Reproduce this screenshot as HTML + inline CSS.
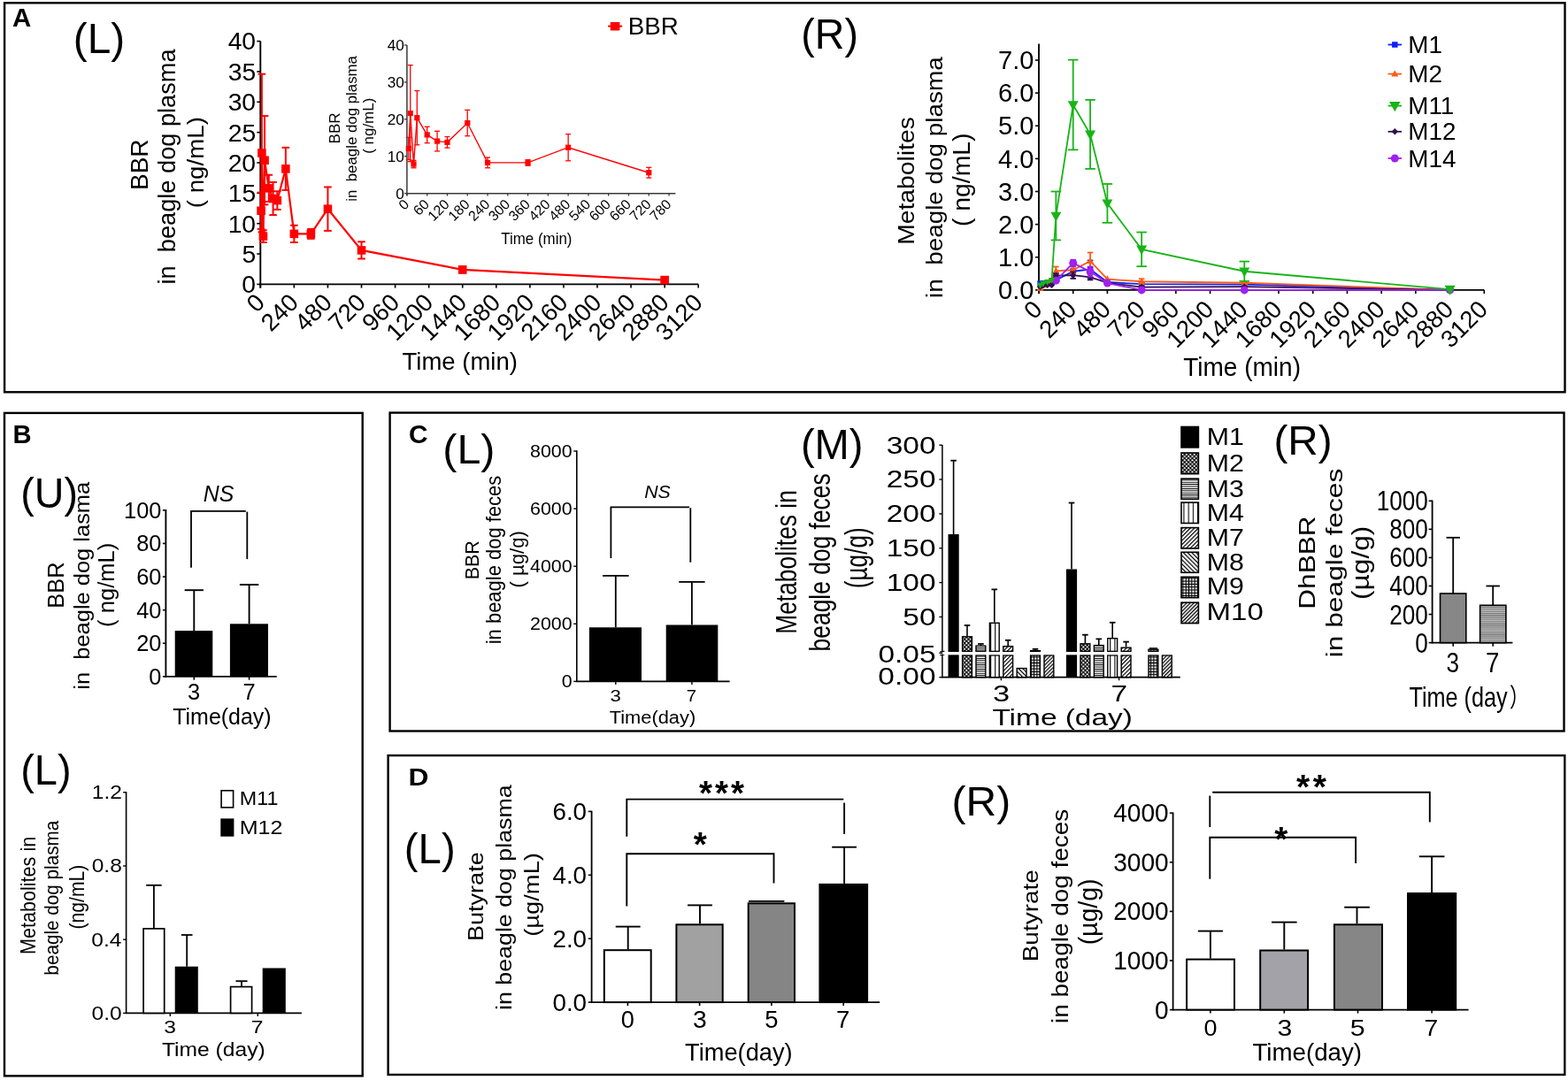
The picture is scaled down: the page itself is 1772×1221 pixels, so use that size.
<!DOCTYPE html>
<html><head><meta charset="utf-8"><title>Figure</title>
<style>html,body{margin:0;padding:0;background:#fff;}svg{display:block;}</style></head>
<body><svg width="1772" height="1221" viewBox="0 0 1772 1221" font-family="'Liberation Sans', Arial, Helvetica, sans-serif" style="white-space:pre">
<rect x="0" y="0" width="1772" height="1221" fill="#fff"/>
<rect x="5.1" y="3.3" width="1763.4" height="440" fill="none" stroke="#000" stroke-width="2.4"/>
<text transform="translate(13.97,30.2) scale(0.9954,1)" font-size="29.5" font-weight="bold" fill="#000">A</text>
<text transform="translate(82.84,60.4) scale(0.9878,1)" font-size="48.4" fill="#000">(L)</text>
<text transform="translate(905.31,54.6) scale(0.9626,1)" font-size="48.4" fill="#000">(R)</text>
<line x1="294.3" y1="46.6" x2="294.3" y2="325.4" stroke="#000" stroke-width="1.9"/>
<line x1="293.4" y1="321.4" x2="789.2" y2="321.4" stroke="#000" stroke-width="1.9"/>
<line x1="290.3" y1="321.4" x2="294.3" y2="321.4" stroke="#000" stroke-width="1.6"/>
<line x1="290.3" y1="287.05" x2="294.3" y2="287.05" stroke="#000" stroke-width="1.6"/>
<line x1="290.3" y1="252.7" x2="294.3" y2="252.7" stroke="#000" stroke-width="1.6"/>
<line x1="290.3" y1="218.35" x2="294.3" y2="218.35" stroke="#000" stroke-width="1.6"/>
<line x1="290.3" y1="184" x2="294.3" y2="184" stroke="#000" stroke-width="1.6"/>
<line x1="290.3" y1="149.65" x2="294.3" y2="149.65" stroke="#000" stroke-width="1.6"/>
<line x1="290.3" y1="115.3" x2="294.3" y2="115.3" stroke="#000" stroke-width="1.6"/>
<line x1="290.3" y1="80.95" x2="294.3" y2="80.95" stroke="#000" stroke-width="1.6"/>
<line x1="290.3" y1="46.6" x2="294.3" y2="46.6" stroke="#000" stroke-width="1.6"/>
<text transform="translate(273.37,331.28) scale(1.0000,1)" font-size="28.3" fill="#000">0</text>
<text transform="translate(273.45,296.93) scale(1.0000,1)" font-size="28.3" fill="#000">5</text>
<text transform="translate(257.63,262.58) scale(1.0000,1)" font-size="28.3" fill="#000">10</text>
<text transform="translate(257.71,228.23) scale(1.0000,1)" font-size="28.3" fill="#000">15</text>
<text transform="translate(257.63,193.88) scale(1.0000,1)" font-size="28.3" fill="#000">20</text>
<text transform="translate(257.71,159.53) scale(1.0000,1)" font-size="28.3" fill="#000">25</text>
<text transform="translate(257.63,125.18) scale(1.0000,1)" font-size="28.3" fill="#000">30</text>
<text transform="translate(257.71,90.83) scale(1.0000,1)" font-size="28.3" fill="#000">35</text>
<text transform="translate(257.63,56.48) scale(1.0000,1)" font-size="28.3" fill="#000">40</text>
<line x1="294.3" y1="321.4" x2="294.3" y2="325.6" stroke="#000" stroke-width="1.6"/>
<text transform="translate(300.7,343.6) rotate(-45) scale(1.0,1)" font-size="27.5" text-anchor="end" fill="#000">0</text>
<line x1="332.37" y1="321.4" x2="332.37" y2="325.6" stroke="#000" stroke-width="1.6"/>
<text transform="translate(338.77,343.6) rotate(-45) scale(1.0,1)" font-size="27.5" text-anchor="end" fill="#000">240</text>
<line x1="370.44" y1="321.4" x2="370.44" y2="325.6" stroke="#000" stroke-width="1.6"/>
<text transform="translate(376.84,343.6) rotate(-45) scale(1.0,1)" font-size="27.5" text-anchor="end" fill="#000">480</text>
<line x1="408.51" y1="321.4" x2="408.51" y2="325.6" stroke="#000" stroke-width="1.6"/>
<text transform="translate(414.91,343.6) rotate(-45) scale(1.0,1)" font-size="27.5" text-anchor="end" fill="#000">720</text>
<line x1="446.58" y1="321.4" x2="446.58" y2="325.6" stroke="#000" stroke-width="1.6"/>
<text transform="translate(452.98,343.6) rotate(-45) scale(1.0,1)" font-size="27.5" text-anchor="end" fill="#000">960</text>
<line x1="484.65" y1="321.4" x2="484.65" y2="325.6" stroke="#000" stroke-width="1.6"/>
<text transform="translate(491.05,343.6) rotate(-45) scale(1.0,1)" font-size="27.5" text-anchor="end" fill="#000">1200</text>
<line x1="522.72" y1="321.4" x2="522.72" y2="325.6" stroke="#000" stroke-width="1.6"/>
<text transform="translate(529.12,343.6) rotate(-45) scale(1.0,1)" font-size="27.5" text-anchor="end" fill="#000">1440</text>
<line x1="560.78" y1="321.4" x2="560.78" y2="325.6" stroke="#000" stroke-width="1.6"/>
<text transform="translate(567.18,343.6) rotate(-45) scale(1.0,1)" font-size="27.5" text-anchor="end" fill="#000">1680</text>
<line x1="598.85" y1="321.4" x2="598.85" y2="325.6" stroke="#000" stroke-width="1.6"/>
<text transform="translate(605.25,343.6) rotate(-45) scale(1.0,1)" font-size="27.5" text-anchor="end" fill="#000">1920</text>
<line x1="636.92" y1="321.4" x2="636.92" y2="325.6" stroke="#000" stroke-width="1.6"/>
<text transform="translate(643.32,343.6) rotate(-45) scale(1.0,1)" font-size="27.5" text-anchor="end" fill="#000">2160</text>
<line x1="674.99" y1="321.4" x2="674.99" y2="325.6" stroke="#000" stroke-width="1.6"/>
<text transform="translate(681.39,343.6) rotate(-45) scale(1.0,1)" font-size="27.5" text-anchor="end" fill="#000">2400</text>
<line x1="713.06" y1="321.4" x2="713.06" y2="325.6" stroke="#000" stroke-width="1.6"/>
<text transform="translate(719.46,343.6) rotate(-45) scale(1.0,1)" font-size="27.5" text-anchor="end" fill="#000">2640</text>
<line x1="751.13" y1="321.4" x2="751.13" y2="325.6" stroke="#000" stroke-width="1.6"/>
<text transform="translate(757.53,343.6) rotate(-45) scale(1.0,1)" font-size="27.5" text-anchor="end" fill="#000">2880</text>
<line x1="789.2" y1="321.4" x2="789.2" y2="325.6" stroke="#000" stroke-width="1.6"/>
<text transform="translate(795.6,343.6) rotate(-45) scale(1.0,1)" font-size="27.5" text-anchor="end" fill="#000">3120</text>
<text transform="translate(454.58,417.8) scale(0.9721,1)" font-size="28.3" fill="#000">Time (min)</text>
<text transform="translate(166.5,215) rotate(-90) scale(1.0076,1)" font-size="27.8" fill="#000">BBR</text>
<text transform="translate(198.3,321.42) rotate(-90) scale(0.9995,1)" font-size="27.2" fill="#000">in &#160;beagle dog plasma</text>
<text transform="translate(229.7,235.22) rotate(-90) scale(1.0849,1)" font-size="25.53" fill="#000">( ng/mL)</text>
<line x1="295.09" y1="217.66" x2="295.09" y2="258.88" stroke="#ff0000" stroke-width="2"/>
<line x1="290.79" y1="217.66" x2="299.39" y2="217.66" stroke="#ff0000" stroke-width="2"/>
<line x1="290.79" y1="258.88" x2="299.39" y2="258.88" stroke="#ff0000" stroke-width="2"/>
<line x1="295.89" y1="83.7" x2="295.89" y2="262.32" stroke="#ff0000" stroke-width="2"/>
<line x1="291.59" y1="83.7" x2="300.19" y2="83.7" stroke="#ff0000" stroke-width="2"/>
<line x1="291.59" y1="262.32" x2="300.19" y2="262.32" stroke="#ff0000" stroke-width="2"/>
<line x1="297.47" y1="260.26" x2="297.47" y2="274" stroke="#ff0000" stroke-width="2"/>
<line x1="293.17" y1="260.26" x2="301.77" y2="260.26" stroke="#ff0000" stroke-width="2"/>
<line x1="293.17" y1="274" x2="301.77" y2="274" stroke="#ff0000" stroke-width="2"/>
<line x1="299.06" y1="131.1" x2="299.06" y2="231.4" stroke="#ff0000" stroke-width="2"/>
<line x1="294.76" y1="131.1" x2="303.36" y2="131.1" stroke="#ff0000" stroke-width="2"/>
<line x1="294.76" y1="231.4" x2="303.36" y2="231.4" stroke="#ff0000" stroke-width="2"/>
<line x1="303.82" y1="197.74" x2="303.82" y2="227.97" stroke="#ff0000" stroke-width="2"/>
<line x1="299.52" y1="197.74" x2="308.12" y2="197.74" stroke="#ff0000" stroke-width="2"/>
<line x1="299.52" y1="227.97" x2="308.12" y2="227.97" stroke="#ff0000" stroke-width="2"/>
<line x1="308.58" y1="205.98" x2="308.58" y2="243.08" stroke="#ff0000" stroke-width="2"/>
<line x1="304.28" y1="205.98" x2="312.88" y2="205.98" stroke="#ff0000" stroke-width="2"/>
<line x1="304.28" y1="243.08" x2="312.88" y2="243.08" stroke="#ff0000" stroke-width="2"/>
<line x1="313.33" y1="216.29" x2="313.33" y2="236.9" stroke="#ff0000" stroke-width="2"/>
<line x1="309.03" y1="216.29" x2="317.63" y2="216.29" stroke="#ff0000" stroke-width="2"/>
<line x1="309.03" y1="236.9" x2="317.63" y2="236.9" stroke="#ff0000" stroke-width="2"/>
<line x1="322.85" y1="166.82" x2="322.85" y2="214.91" stroke="#ff0000" stroke-width="2"/>
<line x1="318.55" y1="166.82" x2="327.15" y2="166.82" stroke="#ff0000" stroke-width="2"/>
<line x1="318.55" y1="214.91" x2="327.15" y2="214.91" stroke="#ff0000" stroke-width="2"/>
<line x1="332.37" y1="254.76" x2="332.37" y2="274" stroke="#ff0000" stroke-width="2"/>
<line x1="328.07" y1="254.76" x2="336.67" y2="254.76" stroke="#ff0000" stroke-width="2"/>
<line x1="328.07" y1="274" x2="336.67" y2="274" stroke="#ff0000" stroke-width="2"/>
<line x1="351.4" y1="258.88" x2="351.4" y2="269.88" stroke="#ff0000" stroke-width="2"/>
<line x1="347.1" y1="258.88" x2="355.7" y2="258.88" stroke="#ff0000" stroke-width="2"/>
<line x1="347.1" y1="269.88" x2="355.7" y2="269.88" stroke="#ff0000" stroke-width="2"/>
<line x1="370.44" y1="211.48" x2="370.44" y2="260.94" stroke="#ff0000" stroke-width="2"/>
<line x1="366.14" y1="211.48" x2="374.74" y2="211.48" stroke="#ff0000" stroke-width="2"/>
<line x1="366.14" y1="260.94" x2="374.74" y2="260.94" stroke="#ff0000" stroke-width="2"/>
<line x1="408.51" y1="273.31" x2="408.51" y2="292.55" stroke="#ff0000" stroke-width="2"/>
<line x1="404.21" y1="273.31" x2="412.81" y2="273.31" stroke="#ff0000" stroke-width="2"/>
<line x1="404.21" y1="292.55" x2="412.81" y2="292.55" stroke="#ff0000" stroke-width="2"/>
<line x1="522.72" y1="301.48" x2="522.72" y2="308.35" stroke="#ff0000" stroke-width="2"/>
<line x1="518.42" y1="301.48" x2="527.02" y2="301.48" stroke="#ff0000" stroke-width="2"/>
<line x1="518.42" y1="308.35" x2="527.02" y2="308.35" stroke="#ff0000" stroke-width="2"/>
<line x1="751.13" y1="314.53" x2="751.13" y2="318.65" stroke="#ff0000" stroke-width="2"/>
<line x1="746.83" y1="314.53" x2="755.43" y2="314.53" stroke="#ff0000" stroke-width="2"/>
<line x1="746.83" y1="318.65" x2="755.43" y2="318.65" stroke="#ff0000" stroke-width="2"/>
<polyline points="295.09,238.27 295.89,173.01 297.47,267.13 299.06,181.25 303.82,212.85 308.58,224.53 313.33,226.59 322.85,190.87 332.37,264.38 351.4,264.38 370.44,236.21 408.51,282.93 522.72,304.91 751.13,316.59" fill="none" stroke="#ff0000" stroke-width="2.2" stroke-linejoin="miter"/>
<rect x="290.29" y="233.47" width="9.6" height="9.6" fill="#ff0000" stroke="none" stroke-width="0"/>
<rect x="291.09" y="168.21" width="9.6" height="9.6" fill="#ff0000" stroke="none" stroke-width="0"/>
<rect x="292.67" y="262.33" width="9.6" height="9.6" fill="#ff0000" stroke="none" stroke-width="0"/>
<rect x="294.26" y="176.45" width="9.6" height="9.6" fill="#ff0000" stroke="none" stroke-width="0"/>
<rect x="299.02" y="208.05" width="9.6" height="9.6" fill="#ff0000" stroke="none" stroke-width="0"/>
<rect x="303.78" y="219.73" width="9.6" height="9.6" fill="#ff0000" stroke="none" stroke-width="0"/>
<rect x="308.53" y="221.79" width="9.6" height="9.6" fill="#ff0000" stroke="none" stroke-width="0"/>
<rect x="318.05" y="186.07" width="9.6" height="9.6" fill="#ff0000" stroke="none" stroke-width="0"/>
<rect x="327.57" y="259.58" width="9.6" height="9.6" fill="#ff0000" stroke="none" stroke-width="0"/>
<rect x="346.6" y="259.58" width="9.6" height="9.6" fill="#ff0000" stroke="none" stroke-width="0"/>
<rect x="365.64" y="231.41" width="9.6" height="9.6" fill="#ff0000" stroke="none" stroke-width="0"/>
<rect x="403.71" y="278.13" width="9.6" height="9.6" fill="#ff0000" stroke="none" stroke-width="0"/>
<rect x="517.92" y="300.11" width="9.6" height="9.6" fill="#ff0000" stroke="none" stroke-width="0"/>
<rect x="746.33" y="311.79" width="9.6" height="9.6" fill="#ff0000" stroke="none" stroke-width="0"/>
<line x1="687.1" y1="29.6" x2="703.1" y2="29.6" stroke="#ff0000" stroke-width="2"/>
<rect x="689.8" y="25" width="10.6" height="9.5" fill="#ff0000" stroke="none" stroke-width="0"/>
<text transform="translate(709.82,38.6) scale(1.0055,1)" font-size="27.6" fill="#000">BBR</text>
<line x1="459.9" y1="51" x2="459.9" y2="221.2" stroke="#3a3a3a" stroke-width="1.5"/>
<line x1="459.2" y1="218.7" x2="763.4" y2="218.7" stroke="#3a3a3a" stroke-width="1.5"/>
<line x1="456.9" y1="218.7" x2="459.9" y2="218.7" stroke="#3a3a3a" stroke-width="1.3"/>
<line x1="456.9" y1="176.77" x2="459.9" y2="176.77" stroke="#3a3a3a" stroke-width="1.3"/>
<line x1="456.9" y1="134.85" x2="459.9" y2="134.85" stroke="#3a3a3a" stroke-width="1.3"/>
<line x1="456.9" y1="92.92" x2="459.9" y2="92.92" stroke="#3a3a3a" stroke-width="1.3"/>
<line x1="456.9" y1="51" x2="459.9" y2="51" stroke="#3a3a3a" stroke-width="1.3"/>
<text transform="translate(447.21,224.7) scale(1.0000,1)" font-size="17.2" fill="#000">0</text>
<text transform="translate(437.64,182.78) scale(1.0000,1)" font-size="17.2" fill="#000">10</text>
<text transform="translate(437.64,140.85) scale(1.0000,1)" font-size="17.2" fill="#000">20</text>
<text transform="translate(437.64,98.93) scale(1.0000,1)" font-size="17.2" fill="#000">30</text>
<text transform="translate(437.64,57) scale(1.0000,1)" font-size="17.2" fill="#000">40</text>
<line x1="459.9" y1="218.7" x2="459.9" y2="221.5" stroke="#3a3a3a" stroke-width="1.3"/>
<text transform="translate(463.3,231.9) rotate(-45) scale(1.0,1)" font-size="15.9" text-anchor="end" fill="#000">0</text>
<line x1="482.68" y1="218.7" x2="482.68" y2="221.5" stroke="#3a3a3a" stroke-width="1.3"/>
<text transform="translate(486.08,231.9) rotate(-45) scale(1.0,1)" font-size="15.9" text-anchor="end" fill="#000">60</text>
<line x1="505.46" y1="218.7" x2="505.46" y2="221.5" stroke="#3a3a3a" stroke-width="1.3"/>
<text transform="translate(508.86,231.9) rotate(-45) scale(1.0,1)" font-size="15.9" text-anchor="end" fill="#000">120</text>
<line x1="528.24" y1="218.7" x2="528.24" y2="221.5" stroke="#3a3a3a" stroke-width="1.3"/>
<text transform="translate(531.64,231.9) rotate(-45) scale(1.0,1)" font-size="15.9" text-anchor="end" fill="#000">180</text>
<line x1="551.02" y1="218.7" x2="551.02" y2="221.5" stroke="#3a3a3a" stroke-width="1.3"/>
<text transform="translate(554.42,231.9) rotate(-45) scale(1.0,1)" font-size="15.9" text-anchor="end" fill="#000">240</text>
<line x1="573.8" y1="218.7" x2="573.8" y2="221.5" stroke="#3a3a3a" stroke-width="1.3"/>
<text transform="translate(577.2,231.9) rotate(-45) scale(1.0,1)" font-size="15.9" text-anchor="end" fill="#000">300</text>
<line x1="596.58" y1="218.7" x2="596.58" y2="221.5" stroke="#3a3a3a" stroke-width="1.3"/>
<text transform="translate(599.98,231.9) rotate(-45) scale(1.0,1)" font-size="15.9" text-anchor="end" fill="#000">360</text>
<line x1="619.36" y1="218.7" x2="619.36" y2="221.5" stroke="#3a3a3a" stroke-width="1.3"/>
<text transform="translate(622.76,231.9) rotate(-45) scale(1.0,1)" font-size="15.9" text-anchor="end" fill="#000">420</text>
<line x1="642.14" y1="218.7" x2="642.14" y2="221.5" stroke="#3a3a3a" stroke-width="1.3"/>
<text transform="translate(645.54,231.9) rotate(-45) scale(1.0,1)" font-size="15.9" text-anchor="end" fill="#000">480</text>
<line x1="664.92" y1="218.7" x2="664.92" y2="221.5" stroke="#3a3a3a" stroke-width="1.3"/>
<text transform="translate(668.32,231.9) rotate(-45) scale(1.0,1)" font-size="15.9" text-anchor="end" fill="#000">540</text>
<line x1="687.7" y1="218.7" x2="687.7" y2="221.5" stroke="#3a3a3a" stroke-width="1.3"/>
<text transform="translate(691.1,231.9) rotate(-45) scale(1.0,1)" font-size="15.9" text-anchor="end" fill="#000">600</text>
<line x1="710.48" y1="218.7" x2="710.48" y2="221.5" stroke="#3a3a3a" stroke-width="1.3"/>
<text transform="translate(713.88,231.9) rotate(-45) scale(1.0,1)" font-size="15.9" text-anchor="end" fill="#000">660</text>
<line x1="733.26" y1="218.7" x2="733.26" y2="221.5" stroke="#3a3a3a" stroke-width="1.3"/>
<text transform="translate(736.66,231.9) rotate(-45) scale(1.0,1)" font-size="15.9" text-anchor="end" fill="#000">720</text>
<line x1="756.04" y1="218.7" x2="756.04" y2="221.5" stroke="#3a3a3a" stroke-width="1.3"/>
<text transform="translate(759.44,231.9) rotate(-45) scale(1.0,1)" font-size="15.9" text-anchor="end" fill="#000">780</text>
<text transform="translate(566.32,276.4) scale(0.9668,1)" font-size="17.5" fill="#000">Time (min)</text>
<text transform="translate(383.9,162.39) rotate(-90) scale(1.0097,1)" font-size="16.8" fill="#000">BBR</text>
<text transform="translate(402.8,227.73) rotate(-90) scale(1.0798,1)" font-size="15.6" fill="#000">in &#160;beagle dog plasma</text>
<text transform="translate(422.3,173.85) rotate(-90) scale(1.0479,1)" font-size="16.2" fill="#000">( ng/mL)</text>
<line x1="461.8" y1="155.39" x2="461.8" y2="180.55" stroke="#ff0000" stroke-width="1.3"/>
<line x1="458.8" y1="155.39" x2="464.8" y2="155.39" stroke="#ff0000" stroke-width="1.3"/>
<line x1="458.8" y1="180.55" x2="464.8" y2="180.55" stroke="#ff0000" stroke-width="1.3"/>
<line x1="463.7" y1="73.64" x2="463.7" y2="182.64" stroke="#ff0000" stroke-width="1.3"/>
<line x1="460.7" y1="73.64" x2="466.7" y2="73.64" stroke="#ff0000" stroke-width="1.3"/>
<line x1="460.7" y1="182.64" x2="466.7" y2="182.64" stroke="#ff0000" stroke-width="1.3"/>
<line x1="467.49" y1="181.39" x2="467.49" y2="189.77" stroke="#ff0000" stroke-width="1.3"/>
<line x1="464.49" y1="181.39" x2="470.49" y2="181.39" stroke="#ff0000" stroke-width="1.3"/>
<line x1="464.49" y1="189.77" x2="470.49" y2="189.77" stroke="#ff0000" stroke-width="1.3"/>
<line x1="471.29" y1="102.57" x2="471.29" y2="163.78" stroke="#ff0000" stroke-width="1.3"/>
<line x1="468.29" y1="102.57" x2="474.29" y2="102.57" stroke="#ff0000" stroke-width="1.3"/>
<line x1="468.29" y1="163.78" x2="474.29" y2="163.78" stroke="#ff0000" stroke-width="1.3"/>
<line x1="482.68" y1="143.23" x2="482.68" y2="161.68" stroke="#ff0000" stroke-width="1.3"/>
<line x1="479.68" y1="143.23" x2="485.68" y2="143.23" stroke="#ff0000" stroke-width="1.3"/>
<line x1="479.68" y1="161.68" x2="485.68" y2="161.68" stroke="#ff0000" stroke-width="1.3"/>
<line x1="494.07" y1="148.27" x2="494.07" y2="170.91" stroke="#ff0000" stroke-width="1.3"/>
<line x1="491.07" y1="148.27" x2="497.07" y2="148.27" stroke="#ff0000" stroke-width="1.3"/>
<line x1="491.07" y1="170.91" x2="497.07" y2="170.91" stroke="#ff0000" stroke-width="1.3"/>
<line x1="505.46" y1="154.55" x2="505.46" y2="167.13" stroke="#ff0000" stroke-width="1.3"/>
<line x1="502.46" y1="154.55" x2="508.46" y2="154.55" stroke="#ff0000" stroke-width="1.3"/>
<line x1="502.46" y1="167.13" x2="508.46" y2="167.13" stroke="#ff0000" stroke-width="1.3"/>
<line x1="528.24" y1="124.37" x2="528.24" y2="153.72" stroke="#ff0000" stroke-width="1.3"/>
<line x1="525.24" y1="124.37" x2="531.24" y2="124.37" stroke="#ff0000" stroke-width="1.3"/>
<line x1="525.24" y1="153.72" x2="531.24" y2="153.72" stroke="#ff0000" stroke-width="1.3"/>
<line x1="551.02" y1="178.03" x2="551.02" y2="189.77" stroke="#ff0000" stroke-width="1.3"/>
<line x1="548.02" y1="178.03" x2="554.02" y2="178.03" stroke="#ff0000" stroke-width="1.3"/>
<line x1="548.02" y1="189.77" x2="554.02" y2="189.77" stroke="#ff0000" stroke-width="1.3"/>
<line x1="596.58" y1="180.55" x2="596.58" y2="187.26" stroke="#ff0000" stroke-width="1.3"/>
<line x1="593.58" y1="180.55" x2="599.58" y2="180.55" stroke="#ff0000" stroke-width="1.3"/>
<line x1="593.58" y1="187.26" x2="599.58" y2="187.26" stroke="#ff0000" stroke-width="1.3"/>
<line x1="642.14" y1="151.62" x2="642.14" y2="181.81" stroke="#ff0000" stroke-width="1.3"/>
<line x1="639.14" y1="151.62" x2="645.14" y2="151.62" stroke="#ff0000" stroke-width="1.3"/>
<line x1="639.14" y1="181.81" x2="645.14" y2="181.81" stroke="#ff0000" stroke-width="1.3"/>
<line x1="733.26" y1="189.35" x2="733.26" y2="201.09" stroke="#ff0000" stroke-width="1.3"/>
<line x1="730.26" y1="189.35" x2="736.26" y2="189.35" stroke="#ff0000" stroke-width="1.3"/>
<line x1="730.26" y1="201.09" x2="736.26" y2="201.09" stroke="#ff0000" stroke-width="1.3"/>
<polyline points="461.8,167.97 463.7,128.14 467.49,185.58 471.29,133.17 482.68,152.46 494.07,159.59 505.46,160.84 528.24,139.04 551.02,183.9 596.58,183.9 642.14,166.71 733.26,195.22" fill="none" stroke="#ff0000" stroke-width="1.4" stroke-linejoin="miter"/>
<rect x="458.7" y="164.87" width="6.2" height="6.2" fill="#ff0000" stroke="none" stroke-width="0"/>
<rect x="460.6" y="125.04" width="6.2" height="6.2" fill="#ff0000" stroke="none" stroke-width="0"/>
<rect x="464.39" y="182.48" width="6.2" height="6.2" fill="#ff0000" stroke="none" stroke-width="0"/>
<rect x="468.19" y="130.07" width="6.2" height="6.2" fill="#ff0000" stroke="none" stroke-width="0"/>
<rect x="479.58" y="149.36" width="6.2" height="6.2" fill="#ff0000" stroke="none" stroke-width="0"/>
<rect x="490.97" y="156.49" width="6.2" height="6.2" fill="#ff0000" stroke="none" stroke-width="0"/>
<rect x="502.36" y="157.74" width="6.2" height="6.2" fill="#ff0000" stroke="none" stroke-width="0"/>
<rect x="525.14" y="135.94" width="6.2" height="6.2" fill="#ff0000" stroke="none" stroke-width="0"/>
<rect x="547.92" y="180.8" width="6.2" height="6.2" fill="#ff0000" stroke="none" stroke-width="0"/>
<rect x="593.48" y="180.8" width="6.2" height="6.2" fill="#ff0000" stroke="none" stroke-width="0"/>
<rect x="639.04" y="163.61" width="6.2" height="6.2" fill="#ff0000" stroke="none" stroke-width="0"/>
<rect x="730.16" y="192.12" width="6.2" height="6.2" fill="#ff0000" stroke="none" stroke-width="0"/>
<line x1="1174" y1="49.5" x2="1174" y2="331.9" stroke="#000" stroke-width="1.9"/>
<line x1="1173.1" y1="327.9" x2="1677.3" y2="327.9" stroke="#000" stroke-width="1.9"/>
<line x1="1170" y1="327.9" x2="1174" y2="327.9" stroke="#000" stroke-width="1.6"/>
<line x1="1170" y1="290.77" x2="1174" y2="290.77" stroke="#000" stroke-width="1.6"/>
<line x1="1170" y1="253.64" x2="1174" y2="253.64" stroke="#000" stroke-width="1.6"/>
<line x1="1170" y1="216.51" x2="1174" y2="216.51" stroke="#000" stroke-width="1.6"/>
<line x1="1170" y1="179.39" x2="1174" y2="179.39" stroke="#000" stroke-width="1.6"/>
<line x1="1170" y1="142.26" x2="1174" y2="142.26" stroke="#000" stroke-width="1.6"/>
<line x1="1170" y1="105.13" x2="1174" y2="105.13" stroke="#000" stroke-width="1.6"/>
<line x1="1170" y1="68" x2="1174" y2="68" stroke="#000" stroke-width="1.6"/>
<text transform="translate(1128.02,338.02) scale(1.0000,1)" font-size="29" fill="#000">0.0</text>
<text transform="translate(1128.02,300.89) scale(1.0000,1)" font-size="29" fill="#000">1.0</text>
<text transform="translate(1128.02,263.76) scale(1.0000,1)" font-size="29" fill="#000">2.0</text>
<text transform="translate(1128.02,226.64) scale(1.0000,1)" font-size="29" fill="#000">3.0</text>
<text transform="translate(1128.02,189.51) scale(1.0000,1)" font-size="29" fill="#000">4.0</text>
<text transform="translate(1128.02,152.38) scale(1.0000,1)" font-size="29" fill="#000">5.0</text>
<text transform="translate(1128.02,115.25) scale(1.0000,1)" font-size="29" fill="#000">6.0</text>
<text transform="translate(1128.02,78.12) scale(1.0000,1)" font-size="29" fill="#000">7.0</text>
<line x1="1174" y1="327.9" x2="1174" y2="332.1" stroke="#000" stroke-width="1.6"/>
<text transform="translate(1179.4,351.4) rotate(-45) scale(1.0,1)" font-size="27.5" text-anchor="end" fill="#000">0</text>
<line x1="1212.72" y1="327.9" x2="1212.72" y2="332.1" stroke="#000" stroke-width="1.6"/>
<text transform="translate(1218.12,351.4) rotate(-45) scale(1.0,1)" font-size="27.5" text-anchor="end" fill="#000">240</text>
<line x1="1251.43" y1="327.9" x2="1251.43" y2="332.1" stroke="#000" stroke-width="1.6"/>
<text transform="translate(1256.83,351.4) rotate(-45) scale(1.0,1)" font-size="27.5" text-anchor="end" fill="#000">480</text>
<line x1="1290.15" y1="327.9" x2="1290.15" y2="332.1" stroke="#000" stroke-width="1.6"/>
<text transform="translate(1295.55,351.4) rotate(-45) scale(1.0,1)" font-size="27.5" text-anchor="end" fill="#000">720</text>
<line x1="1328.86" y1="327.9" x2="1328.86" y2="332.1" stroke="#000" stroke-width="1.6"/>
<text transform="translate(1334.26,351.4) rotate(-45) scale(1.0,1)" font-size="27.5" text-anchor="end" fill="#000">960</text>
<line x1="1367.58" y1="327.9" x2="1367.58" y2="332.1" stroke="#000" stroke-width="1.6"/>
<text transform="translate(1372.98,351.4) rotate(-45) scale(1.0,1)" font-size="27.5" text-anchor="end" fill="#000">1200</text>
<line x1="1406.29" y1="327.9" x2="1406.29" y2="332.1" stroke="#000" stroke-width="1.6"/>
<text transform="translate(1411.69,351.4) rotate(-45) scale(1.0,1)" font-size="27.5" text-anchor="end" fill="#000">1440</text>
<line x1="1445.01" y1="327.9" x2="1445.01" y2="332.1" stroke="#000" stroke-width="1.6"/>
<text transform="translate(1450.41,351.4) rotate(-45) scale(1.0,1)" font-size="27.5" text-anchor="end" fill="#000">1680</text>
<line x1="1483.72" y1="327.9" x2="1483.72" y2="332.1" stroke="#000" stroke-width="1.6"/>
<text transform="translate(1489.12,351.4) rotate(-45) scale(1.0,1)" font-size="27.5" text-anchor="end" fill="#000">1920</text>
<line x1="1522.44" y1="327.9" x2="1522.44" y2="332.1" stroke="#000" stroke-width="1.6"/>
<text transform="translate(1527.84,351.4) rotate(-45) scale(1.0,1)" font-size="27.5" text-anchor="end" fill="#000">2160</text>
<line x1="1561.15" y1="327.9" x2="1561.15" y2="332.1" stroke="#000" stroke-width="1.6"/>
<text transform="translate(1566.55,351.4) rotate(-45) scale(1.0,1)" font-size="27.5" text-anchor="end" fill="#000">2400</text>
<line x1="1599.87" y1="327.9" x2="1599.87" y2="332.1" stroke="#000" stroke-width="1.6"/>
<text transform="translate(1605.27,351.4) rotate(-45) scale(1.0,1)" font-size="27.5" text-anchor="end" fill="#000">2640</text>
<line x1="1638.58" y1="327.9" x2="1638.58" y2="332.1" stroke="#000" stroke-width="1.6"/>
<text transform="translate(1643.98,351.4) rotate(-45) scale(1.0,1)" font-size="27.5" text-anchor="end" fill="#000">2880</text>
<line x1="1677.3" y1="327.9" x2="1677.3" y2="332.1" stroke="#000" stroke-width="1.6"/>
<text transform="translate(1682.7,351.4) rotate(-45) scale(1.0,1)" font-size="27.5" text-anchor="end" fill="#000">3120</text>
<text transform="translate(1337.17,425.1) scale(0.9763,1)" font-size="28.7" fill="#000">Time (min)</text>
<text transform="translate(1033.3,276.82) rotate(-90) scale(1.0787,1)" font-size="26.22" fill="#000">Metabolites</text>
<text transform="translate(1064.6,336.96) rotate(-90) scale(1.0914,1)" font-size="25.53" fill="#000">in &#160;beagle dog plasma</text>
<text transform="translate(1096.37,256.06) rotate(-90) scale(1.0093,1)" font-size="28.11" fill="#000">( ng/mL)</text>
<line x1="1193.36" y1="314.9" x2="1193.36" y2="318.62" stroke="#0f1eff" stroke-width="1.8"/>
<line x1="1190.11" y1="314.9" x2="1196.61" y2="314.9" stroke="#0f1eff" stroke-width="1.8"/>
<line x1="1190.11" y1="318.62" x2="1196.61" y2="318.62" stroke="#0f1eff" stroke-width="1.8"/>
<line x1="1212.72" y1="304.51" x2="1212.72" y2="308.96" stroke="#0f1eff" stroke-width="1.8"/>
<line x1="1209.47" y1="304.51" x2="1215.97" y2="304.51" stroke="#0f1eff" stroke-width="1.8"/>
<line x1="1209.47" y1="308.96" x2="1215.97" y2="308.96" stroke="#0f1eff" stroke-width="1.8"/>
<line x1="1232.07" y1="294.48" x2="1232.07" y2="314.53" stroke="#0f1eff" stroke-width="1.8"/>
<line x1="1228.82" y1="294.48" x2="1235.32" y2="294.48" stroke="#0f1eff" stroke-width="1.8"/>
<line x1="1228.82" y1="314.53" x2="1235.32" y2="314.53" stroke="#0f1eff" stroke-width="1.8"/>
<line x1="1290.15" y1="319.36" x2="1290.15" y2="323.07" stroke="#0f1eff" stroke-width="1.8"/>
<line x1="1286.9" y1="319.36" x2="1293.4" y2="319.36" stroke="#0f1eff" stroke-width="1.8"/>
<line x1="1286.9" y1="323.07" x2="1293.4" y2="323.07" stroke="#0f1eff" stroke-width="1.8"/>
<polyline points="1175.61,320.47 1178.84,320.47 1183.68,320.47 1188.52,318.62 1193.36,316.76 1212.72,306.74 1232.07,304.51 1251.43,318.99 1290.15,321.22 1406.29,321.59 1638.58,327.9" fill="none" stroke="#0f1eff" stroke-width="1.8" stroke-linejoin="miter"/>
<rect x="1172.36" y="317.22" width="6.5" height="6.5" fill="#0f1eff" stroke="none" stroke-width="0"/>
<rect x="1175.59" y="317.22" width="6.5" height="6.5" fill="#0f1eff" stroke="none" stroke-width="0"/>
<rect x="1180.43" y="317.22" width="6.5" height="6.5" fill="#0f1eff" stroke="none" stroke-width="0"/>
<rect x="1185.27" y="315.37" width="6.5" height="6.5" fill="#0f1eff" stroke="none" stroke-width="0"/>
<rect x="1190.11" y="313.51" width="6.5" height="6.5" fill="#0f1eff" stroke="none" stroke-width="0"/>
<rect x="1209.47" y="303.49" width="6.5" height="6.5" fill="#0f1eff" stroke="none" stroke-width="0"/>
<rect x="1228.82" y="301.26" width="6.5" height="6.5" fill="#0f1eff" stroke="none" stroke-width="0"/>
<rect x="1248.18" y="315.74" width="6.5" height="6.5" fill="#0f1eff" stroke="none" stroke-width="0"/>
<rect x="1286.9" y="317.97" width="6.5" height="6.5" fill="#0f1eff" stroke="none" stroke-width="0"/>
<rect x="1403.04" y="318.34" width="6.5" height="6.5" fill="#0f1eff" stroke="none" stroke-width="0"/>
<rect x="1635.33" y="324.65" width="6.5" height="6.5" fill="#0f1eff" stroke="none" stroke-width="0"/>
<line x1="1188.52" y1="314.9" x2="1188.52" y2="318.62" stroke="#ff5a14" stroke-width="1.8"/>
<line x1="1185.27" y1="314.9" x2="1191.77" y2="314.9" stroke="#ff5a14" stroke-width="1.8"/>
<line x1="1185.27" y1="318.62" x2="1191.77" y2="318.62" stroke="#ff5a14" stroke-width="1.8"/>
<line x1="1193.36" y1="301.54" x2="1193.36" y2="311.19" stroke="#ff5a14" stroke-width="1.8"/>
<line x1="1190.11" y1="301.54" x2="1196.61" y2="301.54" stroke="#ff5a14" stroke-width="1.8"/>
<line x1="1190.11" y1="311.19" x2="1196.61" y2="311.19" stroke="#ff5a14" stroke-width="1.8"/>
<line x1="1212.72" y1="301.54" x2="1212.72" y2="308.96" stroke="#ff5a14" stroke-width="1.8"/>
<line x1="1209.47" y1="301.54" x2="1215.97" y2="301.54" stroke="#ff5a14" stroke-width="1.8"/>
<line x1="1209.47" y1="308.96" x2="1215.97" y2="308.96" stroke="#ff5a14" stroke-width="1.8"/>
<line x1="1232.07" y1="285.57" x2="1232.07" y2="304.88" stroke="#ff5a14" stroke-width="1.8"/>
<line x1="1228.82" y1="285.57" x2="1235.32" y2="285.57" stroke="#ff5a14" stroke-width="1.8"/>
<line x1="1228.82" y1="304.88" x2="1235.32" y2="304.88" stroke="#ff5a14" stroke-width="1.8"/>
<line x1="1290.15" y1="315.28" x2="1290.15" y2="321.22" stroke="#ff5a14" stroke-width="1.8"/>
<line x1="1286.9" y1="315.28" x2="1293.4" y2="315.28" stroke="#ff5a14" stroke-width="1.8"/>
<line x1="1286.9" y1="321.22" x2="1293.4" y2="321.22" stroke="#ff5a14" stroke-width="1.8"/>
<line x1="1406.29" y1="317.88" x2="1406.29" y2="321.59" stroke="#ff5a14" stroke-width="1.8"/>
<line x1="1403.04" y1="317.88" x2="1409.54" y2="317.88" stroke="#ff5a14" stroke-width="1.8"/>
<line x1="1403.04" y1="321.59" x2="1409.54" y2="321.59" stroke="#ff5a14" stroke-width="1.8"/>
<polyline points="1175.61,326.04 1178.84,322.33 1183.68,320.47 1188.52,316.76 1193.36,306.37 1212.72,305.25 1232.07,295.23 1251.43,315.65 1290.15,318.25 1406.29,319.73 1638.58,327.9" fill="none" stroke="#ff5a14" stroke-width="1.8" stroke-linejoin="miter"/>
<polygon points="1175.61,321.72 1179.61,328.92 1171.61,328.92" fill="#ff5a14"/>
<polygon points="1178.84,318.01 1182.84,325.21 1174.84,325.21" fill="#ff5a14"/>
<polygon points="1183.68,316.15 1187.68,323.35 1179.68,323.35" fill="#ff5a14"/>
<polygon points="1188.52,312.44 1192.52,319.64 1184.52,319.64" fill="#ff5a14"/>
<polygon points="1193.36,302.05 1197.36,309.25 1189.36,309.25" fill="#ff5a14"/>
<polygon points="1212.72,300.93 1216.72,308.13 1208.72,308.13" fill="#ff5a14"/>
<polygon points="1232.07,290.91 1236.07,298.11 1228.07,298.11" fill="#ff5a14"/>
<polygon points="1251.43,311.33 1255.43,318.53 1247.43,318.53" fill="#ff5a14"/>
<polygon points="1290.15,313.93 1294.15,321.13 1286.15,321.13" fill="#ff5a14"/>
<polygon points="1406.29,315.41 1410.29,322.61 1402.29,322.61" fill="#ff5a14"/>
<polygon points="1638.58,323.58 1642.58,330.78 1634.58,330.78" fill="#ff5a14"/>
<line x1="1193.36" y1="309.34" x2="1193.36" y2="313.79" stroke="#30104e" stroke-width="1.8"/>
<line x1="1190.11" y1="309.34" x2="1196.61" y2="309.34" stroke="#30104e" stroke-width="1.8"/>
<line x1="1190.11" y1="313.79" x2="1196.61" y2="313.79" stroke="#30104e" stroke-width="1.8"/>
<line x1="1212.72" y1="307.48" x2="1212.72" y2="314.9" stroke="#30104e" stroke-width="1.8"/>
<line x1="1209.47" y1="307.48" x2="1215.97" y2="307.48" stroke="#30104e" stroke-width="1.8"/>
<line x1="1209.47" y1="314.9" x2="1215.97" y2="314.9" stroke="#30104e" stroke-width="1.8"/>
<line x1="1232.07" y1="310.45" x2="1232.07" y2="316.39" stroke="#30104e" stroke-width="1.8"/>
<line x1="1228.82" y1="310.45" x2="1235.32" y2="310.45" stroke="#30104e" stroke-width="1.8"/>
<line x1="1228.82" y1="316.39" x2="1235.32" y2="316.39" stroke="#30104e" stroke-width="1.8"/>
<polyline points="1175.61,324.19 1178.84,322.7 1183.68,322.33 1188.52,322.33 1193.36,311.56 1212.72,311.19 1232.07,313.42 1251.43,319.73 1290.15,324.56 1406.29,324.19 1638.58,327.9" fill="none" stroke="#30104e" stroke-width="1.8" stroke-linejoin="miter"/>
<polygon points="1175.61,320.44 1179.36,324.19 1175.61,327.94 1171.86,324.19" fill="#30104e"/>
<polygon points="1178.84,318.95 1182.59,322.7 1178.84,326.45 1175.09,322.7" fill="#30104e"/>
<polygon points="1183.68,318.58 1187.43,322.33 1183.68,326.08 1179.93,322.33" fill="#30104e"/>
<polygon points="1188.52,318.58 1192.27,322.33 1188.52,326.08 1184.77,322.33" fill="#30104e"/>
<polygon points="1193.36,307.81 1197.11,311.56 1193.36,315.31 1189.61,311.56" fill="#30104e"/>
<polygon points="1212.72,307.44 1216.47,311.19 1212.72,314.94 1208.97,311.19" fill="#30104e"/>
<polygon points="1232.07,309.67 1235.82,313.42 1232.07,317.17 1228.32,313.42" fill="#30104e"/>
<polygon points="1251.43,315.98 1255.18,319.73 1251.43,323.48 1247.68,319.73" fill="#30104e"/>
<polygon points="1290.15,320.81 1293.9,324.56 1290.15,328.31 1286.4,324.56" fill="#30104e"/>
<polygon points="1406.29,320.44 1410.04,324.19 1406.29,327.94 1402.54,324.19" fill="#30104e"/>
<polygon points="1638.58,324.15 1642.33,327.9 1638.58,331.65 1634.83,327.9" fill="#30104e"/>
<line x1="1193.36" y1="315.28" x2="1193.36" y2="318.99" stroke="#a020f0" stroke-width="1.8"/>
<line x1="1190.11" y1="315.28" x2="1196.61" y2="315.28" stroke="#a020f0" stroke-width="1.8"/>
<line x1="1190.11" y1="318.99" x2="1196.61" y2="318.99" stroke="#a020f0" stroke-width="1.8"/>
<line x1="1212.72" y1="293.74" x2="1212.72" y2="301.17" stroke="#a020f0" stroke-width="1.8"/>
<line x1="1209.47" y1="293.74" x2="1215.97" y2="293.74" stroke="#a020f0" stroke-width="1.8"/>
<line x1="1209.47" y1="301.17" x2="1215.97" y2="301.17" stroke="#a020f0" stroke-width="1.8"/>
<line x1="1232.07" y1="301.54" x2="1232.07" y2="312.68" stroke="#a020f0" stroke-width="1.8"/>
<line x1="1228.82" y1="301.54" x2="1235.32" y2="301.54" stroke="#a020f0" stroke-width="1.8"/>
<line x1="1228.82" y1="312.68" x2="1235.32" y2="312.68" stroke="#a020f0" stroke-width="1.8"/>
<line x1="1251.43" y1="318.25" x2="1251.43" y2="321.96" stroke="#a020f0" stroke-width="1.8"/>
<line x1="1248.18" y1="318.25" x2="1254.68" y2="318.25" stroke="#a020f0" stroke-width="1.8"/>
<line x1="1248.18" y1="321.96" x2="1254.68" y2="321.96" stroke="#a020f0" stroke-width="1.8"/>
<polyline points="1193.36,317.13 1212.72,297.45 1232.07,307.11 1251.43,320.1 1290.15,327.9 1406.29,327.9 1638.58,327.9" fill="none" stroke="#a020f0" stroke-width="1.8" stroke-linejoin="miter"/>
<circle cx="1193.36" cy="317.13" r="4.5" fill="#a020f0"/>
<circle cx="1212.72" cy="297.45" r="4.5" fill="#a020f0"/>
<circle cx="1232.07" cy="307.11" r="4.5" fill="#a020f0"/>
<circle cx="1251.43" cy="320.1" r="4.5" fill="#a020f0"/>
<circle cx="1290.15" cy="327.9" r="4.5" fill="#a020f0"/>
<circle cx="1406.29" cy="327.9" r="4.5" fill="#a020f0"/>
<circle cx="1638.58" cy="327.9" r="4.5" fill="#a020f0"/>
<line x1="1193.36" y1="216.51" x2="1193.36" y2="271.46" stroke="#18b418" stroke-width="1.8"/>
<line x1="1187.61" y1="216.51" x2="1199.11" y2="216.51" stroke="#18b418" stroke-width="1.8"/>
<line x1="1187.61" y1="271.46" x2="1199.11" y2="271.46" stroke="#18b418" stroke-width="1.8"/>
<line x1="1212.72" y1="67.63" x2="1212.72" y2="169.36" stroke="#18b418" stroke-width="1.8"/>
<line x1="1206.97" y1="67.63" x2="1218.47" y2="67.63" stroke="#18b418" stroke-width="1.8"/>
<line x1="1206.97" y1="169.36" x2="1218.47" y2="169.36" stroke="#18b418" stroke-width="1.8"/>
<line x1="1232.07" y1="112.93" x2="1232.07" y2="190.9" stroke="#18b418" stroke-width="1.8"/>
<line x1="1226.32" y1="112.93" x2="1237.82" y2="112.93" stroke="#18b418" stroke-width="1.8"/>
<line x1="1226.32" y1="190.9" x2="1237.82" y2="190.9" stroke="#18b418" stroke-width="1.8"/>
<line x1="1251.43" y1="207.97" x2="1251.43" y2="251.79" stroke="#18b418" stroke-width="1.8"/>
<line x1="1245.68" y1="207.97" x2="1257.18" y2="207.97" stroke="#18b418" stroke-width="1.8"/>
<line x1="1245.68" y1="251.79" x2="1257.18" y2="251.79" stroke="#18b418" stroke-width="1.8"/>
<line x1="1290.15" y1="262.55" x2="1290.15" y2="301.17" stroke="#18b418" stroke-width="1.8"/>
<line x1="1284.4" y1="262.55" x2="1295.9" y2="262.55" stroke="#18b418" stroke-width="1.8"/>
<line x1="1284.4" y1="301.17" x2="1295.9" y2="301.17" stroke="#18b418" stroke-width="1.8"/>
<line x1="1406.29" y1="295.6" x2="1406.29" y2="317.88" stroke="#18b418" stroke-width="1.8"/>
<line x1="1400.54" y1="295.6" x2="1412.04" y2="295.6" stroke="#18b418" stroke-width="1.8"/>
<line x1="1400.54" y1="317.88" x2="1412.04" y2="317.88" stroke="#18b418" stroke-width="1.8"/>
<polyline points="1175.61,322.33 1178.84,320.47 1183.68,318.62 1188.52,316.76 1193.36,243.99 1212.72,118.49 1232.07,151.91 1251.43,229.88 1290.15,281.86 1406.29,306.74 1638.58,327.16" fill="none" stroke="#18b418" stroke-width="1.8" stroke-linejoin="miter"/>
<polygon points="1171.86,319.63 1179.36,319.63 1175.61,326.38" fill="#18b418"/>
<polygon points="1175.09,317.77 1182.59,317.77 1178.84,324.52" fill="#18b418"/>
<polygon points="1179.93,315.92 1187.43,315.92 1183.68,322.67" fill="#18b418"/>
<polygon points="1184.77,314.06 1192.27,314.06 1188.52,320.81" fill="#18b418"/>
<polygon points="1187.36,239.67 1199.36,239.67 1193.36,250.47" fill="#18b418"/>
<polygon points="1206.72,114.17 1218.72,114.17 1212.72,124.97" fill="#18b418"/>
<polygon points="1226.07,147.59 1238.07,147.59 1232.07,158.39" fill="#18b418"/>
<polygon points="1245.43,225.56 1257.43,225.56 1251.43,236.36" fill="#18b418"/>
<polygon points="1284.15,277.54 1296.15,277.54 1290.15,288.34" fill="#18b418"/>
<polygon points="1400.29,302.42 1412.29,302.42 1406.29,313.22" fill="#18b418"/>
<polygon points="1632.58,322.84 1644.58,322.84 1638.58,333.64" fill="#18b418"/>
<line x1="1568.6" y1="50.5" x2="1584" y2="50.5" stroke="#0f1eff" stroke-width="1.8"/>
<rect x="1573.05" y="47.25" width="6.5" height="6.5" fill="#0f1eff" stroke="none" stroke-width="0"/>
<text transform="translate(1591.32,59.5) scale(1.0000,1)" font-size="27.8" fill="#000">M1</text>
<line x1="1568.6" y1="83.6" x2="1584" y2="83.6" stroke="#ff5a14" stroke-width="1.8"/>
<polygon points="1576.3,79.28 1580.3,86.48 1572.3,86.48" fill="#ff5a14"/>
<text transform="translate(1591.32,93) scale(1.0000,1)" font-size="27.8" fill="#000">M2</text>
<line x1="1568.6" y1="119.6" x2="1584" y2="119.6" stroke="#18b418" stroke-width="1.8"/>
<polygon points="1570.05,115.1 1582.55,115.1 1576.3,126.35" fill="#18b418"/>
<text transform="translate(1591.32,128.9) scale(1.0000,1)" font-size="27.8" fill="#000">M11</text>
<line x1="1568.6" y1="148.8" x2="1584" y2="148.8" stroke="#30104e" stroke-width="1.8"/>
<polygon points="1576.3,145.05 1580.05,148.8 1576.3,152.55 1572.55,148.8" fill="#30104e"/>
<text transform="translate(1591.32,157.9) scale(1.0000,1)" font-size="27.8" fill="#000">M12</text>
<line x1="1568.6" y1="179" x2="1584" y2="179" stroke="#a020f0" stroke-width="1.8"/>
<circle cx="1576.3" cy="179" r="4.5" fill="#a020f0"/>
<text transform="translate(1591.32,188.5) scale(1.0000,1)" font-size="27.8" fill="#000">M14</text>
<rect x="5" y="466.9" width="404.7" height="749.5" fill="none" stroke="#000" stroke-width="2.4"/>
<text transform="translate(14.55,501.2) scale(0.9894,1)" font-size="29.5" font-weight="bold" fill="#000">B</text>
<text transform="translate(23.21,573.8) scale(0.9826,1)" font-size="47.5" fill="#000">(U)</text>
<line x1="187.4" y1="576" x2="187.4" y2="765.7" stroke="#000" stroke-width="1.9"/>
<line x1="186.5" y1="764.9" x2="312.7" y2="764.9" stroke="#000" stroke-width="1.9"/>
<line x1="183.9" y1="764.9" x2="187.4" y2="764.9" stroke="#000" stroke-width="1.6"/>
<line x1="183.9" y1="727.28" x2="187.4" y2="727.28" stroke="#000" stroke-width="1.6"/>
<line x1="183.9" y1="689.66" x2="187.4" y2="689.66" stroke="#000" stroke-width="1.6"/>
<line x1="183.9" y1="652.04" x2="187.4" y2="652.04" stroke="#000" stroke-width="1.6"/>
<line x1="183.9" y1="614.42" x2="187.4" y2="614.42" stroke="#000" stroke-width="1.6"/>
<line x1="183.9" y1="576.8" x2="187.4" y2="576.8" stroke="#000" stroke-width="1.6"/>
<text transform="translate(168.37,773.76) scale(1.0000,1)" font-size="25.4" fill="#000">0</text>
<text transform="translate(154.24,736.14) scale(1.0000,1)" font-size="25.4" fill="#000">20</text>
<text transform="translate(154.24,698.52) scale(1.0000,1)" font-size="25.4" fill="#000">40</text>
<text transform="translate(154.24,660.9) scale(1.0000,1)" font-size="25.4" fill="#000">60</text>
<text transform="translate(154.24,623.28) scale(1.0000,1)" font-size="25.4" fill="#000">80</text>
<text transform="translate(140.11,585.66) scale(1.0000,1)" font-size="25.4" fill="#000">100</text>
<rect x="197.7" y="713.1" width="42.6" height="51.8" fill="#000" stroke="none" stroke-width="0"/>
<rect x="259.9" y="705.3" width="43.1" height="59.6" fill="#000" stroke="none" stroke-width="0"/>
<line x1="219.3" y1="713.1" x2="219.3" y2="667.2" stroke="#000" stroke-width="1.9"/>
<line x1="208.65" y1="667.2" x2="229.95" y2="667.2" stroke="#000" stroke-width="1.9"/>
<line x1="281.6" y1="705.3" x2="281.6" y2="661" stroke="#000" stroke-width="1.9"/>
<line x1="270.9" y1="661" x2="292.3" y2="661" stroke="#000" stroke-width="1.9"/>
<line x1="219.3" y1="764.9" x2="219.3" y2="768.7" stroke="#000" stroke-width="1.6"/>
<line x1="281.6" y1="764.9" x2="281.6" y2="768.7" stroke="#000" stroke-width="1.6"/>
<text transform="translate(212.03,791.15) scale(0.9874,1)" font-size="25.85" fill="#000">3</text>
<text transform="translate(274.59,791.1) scale(0.9753,1)" font-size="26.16" fill="#000">7</text>
<text transform="translate(195.24,818.5) scale(0.9533,1)" font-size="26.2" fill="#000">Time(day)</text>
<polyline points="216,641.8 216,577.8 277.8,577.8" fill="none" stroke="#000" stroke-width="1.8" stroke-linejoin="miter"/>
<line x1="279.3" y1="578.6" x2="279.3" y2="632.1" stroke="#000" stroke-width="1.8"/>
<text transform="translate(229.74,566.7) scale(0.9488,1)" font-size="26.2" font-style="italic" fill="#000">NS</text>
<text transform="translate(72.2,687.69) rotate(-90) scale(0.9814,1)" font-size="25.9" fill="#000">BBR</text>
<text transform="translate(100.67,779.7) rotate(-90) scale(1.0498,1)" font-size="24.25" fill="#000">in &#160;beagle dog lasma</text>
<text transform="translate(129.31,708.89) rotate(-90) scale(1.0226,1)" font-size="25" fill="#000">( ng/mL)</text>
<text transform="translate(23.19,887) scale(0.9892,1)" font-size="47.5" fill="#000">(L)</text>
<line x1="142.6" y1="895.2" x2="142.6" y2="1146" stroke="#000" stroke-width="1.6"/>
<line x1="141.8" y1="1145.4" x2="340.9" y2="1145.4" stroke="#000" stroke-width="1.8"/>
<line x1="139.1" y1="1145.4" x2="142.6" y2="1145.4" stroke="#000" stroke-width="1.4"/>
<line x1="139.1" y1="1062.2" x2="142.6" y2="1062.2" stroke="#000" stroke-width="1.4"/>
<line x1="139.1" y1="979" x2="142.6" y2="979" stroke="#000" stroke-width="1.4"/>
<line x1="139.1" y1="895.8" x2="142.6" y2="895.8" stroke="#000" stroke-width="1.4"/>
<text transform="translate(103.57,1152.8) scale(1.1600,1)" font-size="21.2" fill="#000">0.0</text>
<text transform="translate(103.33,1069.6) scale(1.1600,1)" font-size="21.2" fill="#000">0.4</text>
<text transform="translate(103.68,986.4) scale(1.1600,1)" font-size="21.2" fill="#000">0.8</text>
<text transform="translate(103.85,903.2) scale(1.1600,1)" font-size="21.2" fill="#000">1.2</text>
<rect x="162.1" y="1049.9" width="23.6" height="95.5" fill="#fff" stroke="#000" stroke-width="1.7"/>
<rect x="197.7" y="1092.7" width="26.1" height="52.7" fill="#000" stroke="none" stroke-width="0"/>
<rect x="260.6" y="1115.6" width="24" height="29.8" fill="#fff" stroke="#000" stroke-width="1.7"/>
<rect x="296.7" y="1094.5" width="26.1" height="50.9" fill="#000" stroke="none" stroke-width="0"/>
<line x1="173.9" y1="1049.9" x2="173.9" y2="1000.8" stroke="#000" stroke-width="1.8"/>
<line x1="165.15" y1="1000.8" x2="182.65" y2="1000.8" stroke="#000" stroke-width="1.8"/>
<line x1="211.2" y1="1092.7" x2="211.2" y2="1057" stroke="#000" stroke-width="1.8"/>
<line x1="204.9" y1="1057" x2="217.5" y2="1057" stroke="#000" stroke-width="1.8"/>
<line x1="273" y1="1115.6" x2="273" y2="1109.2" stroke="#000" stroke-width="1.8"/>
<line x1="266.45" y1="1109.2" x2="279.55" y2="1109.2" stroke="#000" stroke-width="1.8"/>
<line x1="192.3" y1="1145.4" x2="192.3" y2="1148.9" stroke="#000" stroke-width="1.4"/>
<line x1="291.3" y1="1145.4" x2="291.3" y2="1148.9" stroke="#000" stroke-width="1.4"/>
<text transform="translate(185.36,1167.5) scale(1.1805,1)" font-size="20.9" fill="#000">3</text>
<text transform="translate(283.83,1167.5) scale(1.2043,1)" font-size="20.64" fill="#000">7</text>
<text transform="translate(182.95,1193.8) scale(1.1465,1)" font-size="21.5" fill="#000">Time (day)</text>
<rect x="250.1" y="893.8" width="13.5" height="19.1" fill="#fff" stroke="#000" stroke-width="1.6"/>
<rect x="249.3" y="925.4" width="15.1" height="20.3" fill="#000" stroke="none" stroke-width="0"/>
<text transform="translate(270.79,910.3) scale(1.0945,1)" font-size="21.3" fill="#000">M11</text>
<text transform="translate(270.64,942.7) scale(1.1782,1)" font-size="21.3" fill="#000">M12</text>
<text transform="translate(39.9,1078.97) rotate(-90) scale(0.9146,1)" font-size="23.6" fill="#000">Metabolites in</text>
<text transform="translate(66.19,1102.63) rotate(-90) scale(0.9322,1)" font-size="22.21" fill="#000">beagle dog plasma</text>
<text transform="translate(95.21,1050.41) rotate(-90) scale(0.8795,1)" font-size="24.03" fill="#000">(ng/mL)</text>

<defs>
<pattern id="pM2" width="4.4" height="4.4" patternUnits="userSpaceOnUse">
 <rect width="4.4" height="4.4" fill="#000"/><circle cx="1.1" cy="1.1" r="1.05" fill="#fff"/><circle cx="3.3" cy="3.3" r="1.05" fill="#fff"/>
</pattern>
<pattern id="pM3" width="4" height="2.4" patternUnits="userSpaceOnUse">
 <rect width="4" height="2.4" fill="#fff"/><rect y="0" width="4" height="1.0" fill="#000"/>
</pattern>
<pattern id="pM4" width="5.2" height="4" patternUnits="userSpaceOnUse" x="1.0">
 <rect width="5.2" height="4" fill="#fff"/><rect x="0" width="1.1" height="4" fill="#000"/>
</pattern>
<pattern id="pM7" width="3.2" height="3.2" patternUnits="userSpaceOnUse" patternTransform="rotate(45)">
 <rect width="3.2" height="3.2" fill="#fff"/><rect width="1.2" height="3.2" fill="#000"/>
</pattern>
<pattern id="pM8" width="3.4" height="3.4" patternUnits="userSpaceOnUse" patternTransform="rotate(-45)">
 <rect width="3.4" height="3.4" fill="#fff"/><rect width="1.2" height="3.4" fill="#000"/>
</pattern>
<pattern id="pM9" width="3.3" height="3.3" patternUnits="userSpaceOnUse">
 <rect width="3.3" height="3.3" fill="#000"/><rect x="1.0" y="1.0" width="2.1" height="2.1" fill="#fff"/>
</pattern>
<pattern id="pM10" width="2.9" height="2.9" patternUnits="userSpaceOnUse" patternTransform="rotate(45)">
 <rect width="2.9" height="2.9" fill="#fff"/><rect width="1.25" height="2.9" fill="#000"/>
</pattern>
<pattern id="pHL" width="4" height="2.2" patternUnits="userSpaceOnUse">
 <rect width="4" height="2.2" fill="#c8c8c8"/><rect width="4" height="1.1" fill="#6e6e6e"/>
</pattern>
</defs>

<text transform="translate(1439.45,514) scale(1.0352,1)" font-size="46" fill="#000">(R)</text>
<text transform="translate(1486.1,688.69) rotate(-90) scale(1.2231,1)" font-size="25.81" fill="#000">DhBBR</text>
<text transform="translate(1516.53,743.43) rotate(-90) scale(1.2303,1)" font-size="25.85" fill="#000">in beagle feces</text>
<text transform="translate(1547.3,677.96) rotate(-90) scale(1.1526,1)" font-size="27.46" fill="#000">(µg/g)</text>
<line x1="1618.6" y1="565.6" x2="1618.6" y2="727.3" stroke="#000" stroke-width="1.8"/>
<line x1="1617.8" y1="726.6" x2="1709.4" y2="726.6" stroke="#000" stroke-width="1.8"/>
<line x1="1614.6" y1="726.6" x2="1618.6" y2="726.6" stroke="#000" stroke-width="1.6"/>
<line x1="1614.6" y1="694.54" x2="1618.6" y2="694.54" stroke="#000" stroke-width="1.6"/>
<line x1="1614.6" y1="662.48" x2="1618.6" y2="662.48" stroke="#000" stroke-width="1.6"/>
<line x1="1614.6" y1="630.42" x2="1618.6" y2="630.42" stroke="#000" stroke-width="1.6"/>
<line x1="1614.6" y1="598.36" x2="1618.6" y2="598.36" stroke="#000" stroke-width="1.6"/>
<line x1="1614.6" y1="566.3" x2="1618.6" y2="566.3" stroke="#000" stroke-width="1.6"/>
<text transform="translate(1599.28,737.59) scale(0.8300,1)" font-size="31.5" fill="#000">0</text>
<text transform="translate(1570.2,705.53) scale(0.8300,1)" font-size="31.5" fill="#000">200</text>
<text transform="translate(1570.2,673.47) scale(0.8300,1)" font-size="31.5" fill="#000">400</text>
<text transform="translate(1570.2,641.41) scale(0.8300,1)" font-size="31.5" fill="#000">600</text>
<text transform="translate(1570.2,609.35) scale(0.8300,1)" font-size="31.5" fill="#000">800</text>
<text transform="translate(1555.66,577.29) scale(0.8300,1)" font-size="31.5" fill="#000">1000</text>
<rect x="1627.5" y="671" width="29.3" height="55.6" fill="#878787" stroke="#000" stroke-width="1.6"/>
<rect x="1672.6" y="684.3" width="29.3" height="42.3" fill="url(#pHL)" stroke="#000" stroke-width="1.6"/>
<line x1="1642.2" y1="671" x2="1642.2" y2="607.8" stroke="#000" stroke-width="1.8"/>
<line x1="1634.5" y1="607.8" x2="1649.9" y2="607.8" stroke="#000" stroke-width="1.8"/>
<line x1="1687.2" y1="684.3" x2="1687.2" y2="662.5" stroke="#000" stroke-width="1.8"/>
<line x1="1679.5" y1="662.5" x2="1694.9" y2="662.5" stroke="#000" stroke-width="1.8"/>
<line x1="1642.2" y1="726.6" x2="1642.2" y2="730.8" stroke="#000" stroke-width="1.6"/>
<line x1="1687.2" y1="726.6" x2="1687.2" y2="730.8" stroke="#000" stroke-width="1.6"/>
<text transform="translate(1634.6,759.69) scale(0.8193,1)" font-size="31.92" fill="#000">3</text>
<text transform="translate(1678.88,759.8) scale(0.8707,1)" font-size="31.83" fill="#000">7</text>
<text transform="translate(1592.43,798.7) scale(0.8269,1)" font-size="30.5" fill="#000">Time (day</text>
<text x="1706" y="798.7" font-size="29" font-family="'Noto Sans CJK SC', 'WenQuanYi Zen Hei', sans-serif" transform="translate(1706,0) scale(0.75,1) translate(-1706,0)">）</text>
<rect x="440.6" y="466.6" width="1326.9" height="359.9" fill="none" stroke="#000" stroke-width="2.4"/>
<text transform="translate(461.88,501.2) scale(1.0110,1)" font-size="29.5" font-weight="bold" fill="#000">C</text>
<text transform="translate(500.3,523.6) scale(1.0308,1)" font-size="47" fill="#000">(L)</text>
<line x1="651.8" y1="509.3" x2="651.8" y2="771.1" stroke="#000" stroke-width="1.6"/>
<line x1="651" y1="770.4" x2="824.6" y2="770.4" stroke="#000" stroke-width="1.7"/>
<line x1="648.3" y1="770.4" x2="651.8" y2="770.4" stroke="#000" stroke-width="1.4"/>
<line x1="648.3" y1="705.3" x2="651.8" y2="705.3" stroke="#000" stroke-width="1.4"/>
<line x1="648.3" y1="640.2" x2="651.8" y2="640.2" stroke="#000" stroke-width="1.4"/>
<line x1="648.3" y1="575.1" x2="651.8" y2="575.1" stroke="#000" stroke-width="1.4"/>
<line x1="648.3" y1="510" x2="651.8" y2="510" stroke="#000" stroke-width="1.4"/>
<text transform="translate(634.73,777.38) scale(1.0700,1)" font-size="20" fill="#000">0</text>
<text transform="translate(599.03,712.28) scale(1.0700,1)" font-size="20" fill="#000">2000</text>
<text transform="translate(599.03,647.18) scale(1.0700,1)" font-size="20" fill="#000">4000</text>
<text transform="translate(599.03,582.08) scale(1.0700,1)" font-size="20" fill="#000">6000</text>
<text transform="translate(599.03,516.98) scale(1.0700,1)" font-size="20" fill="#000">8000</text>
<rect x="665.9" y="709.3" width="59.1" height="61.1" fill="#000" stroke="none" stroke-width="0"/>
<rect x="752.7" y="706.5" width="58.6" height="63.9" fill="#000" stroke="none" stroke-width="0"/>
<line x1="695.8" y1="709.3" x2="695.8" y2="650.9" stroke="#000" stroke-width="1.8"/>
<line x1="681" y1="650.9" x2="710.6" y2="650.9" stroke="#000" stroke-width="1.8"/>
<line x1="781.9" y1="706.5" x2="781.9" y2="657.9" stroke="#000" stroke-width="1.8"/>
<line x1="767.2" y1="657.9" x2="796.6" y2="657.9" stroke="#000" stroke-width="1.8"/>
<line x1="695.8" y1="770.4" x2="695.8" y2="773.9" stroke="#000" stroke-width="1.4"/>
<line x1="781.9" y1="770.4" x2="781.9" y2="773.9" stroke="#000" stroke-width="1.4"/>
<polyline points="690.4,631.1 690.4,573.3 779,573.3" fill="none" stroke="#000" stroke-width="1.8" stroke-linejoin="miter"/>
<line x1="780.3" y1="574.3" x2="780.3" y2="635.7" stroke="#000" stroke-width="1.8"/>
<text transform="translate(728.24,562.6) scale(1.0190,1)" font-size="20.9" font-style="italic" fill="#000">NS</text>
<text transform="translate(689.56,793.3) scale(1.1627,1)" font-size="19.05" fill="#000">3</text>
<text transform="translate(775.75,793.1) scale(1.0744,1)" font-size="19.04" fill="#000">7</text>
<text transform="translate(688.71,817.8) scale(1.0765,1)" font-size="20.3" fill="#000">Time(day)</text>
<text transform="translate(540.8,655.37) rotate(-90) scale(0.9921,1)" font-size="21.7" fill="#000">BBR</text>
<text transform="translate(565.57,728.27) rotate(-90) scale(0.9067,1)" font-size="24.25" fill="#000">in beagle dog feces</text>
<text transform="translate(591.99,664.58) rotate(-90) scale(1.0442,1)" font-size="21.24" fill="#000">( µg/g)</text>
<text transform="translate(904.88,519) scale(0.9922,1)" font-size="47.5" fill="#000">(M)</text>
<line x1="1064.9" y1="502.9" x2="1064.9" y2="737" stroke="#000" stroke-width="1.5"/>
<line x1="1064.9" y1="740.2" x2="1064.9" y2="765.7" stroke="#000" stroke-width="1.5"/>
<line x1="1062.4" y1="737" x2="1067.4" y2="736.4" stroke="#000" stroke-width="1.3"/>
<line x1="1062.4" y1="740.6" x2="1067.4" y2="740" stroke="#000" stroke-width="1.3"/>
<line x1="1064.2" y1="765.7" x2="1333.8" y2="765.7" stroke="#000" stroke-width="1.8"/>
<line x1="1061.4" y1="697.45" x2="1064.9" y2="697.45" stroke="#000" stroke-width="1.4"/>
<line x1="1061.4" y1="658.6" x2="1064.9" y2="658.6" stroke="#000" stroke-width="1.4"/>
<line x1="1061.4" y1="619.75" x2="1064.9" y2="619.75" stroke="#000" stroke-width="1.4"/>
<line x1="1061.4" y1="580.9" x2="1064.9" y2="580.9" stroke="#000" stroke-width="1.4"/>
<line x1="1061.4" y1="542.05" x2="1064.9" y2="542.05" stroke="#000" stroke-width="1.4"/>
<line x1="1061.4" y1="503.2" x2="1064.9" y2="503.2" stroke="#000" stroke-width="1.4"/>
<line x1="1061.4" y1="738.3" x2="1064.9" y2="738.3" stroke="#000" stroke-width="1.4"/>
<line x1="1061.4" y1="765.7" x2="1064.9" y2="765.7" stroke="#000" stroke-width="1.4"/>
<text transform="translate(1020.27,706.87) scale(1.2400,1)" font-size="27" fill="#000">50</text>
<text transform="translate(1001.65,668.02) scale(1.2400,1)" font-size="27" fill="#000">100</text>
<text transform="translate(1001.65,629.17) scale(1.2400,1)" font-size="27" fill="#000">150</text>
<text transform="translate(1001.65,590.32) scale(1.2400,1)" font-size="27" fill="#000">200</text>
<text transform="translate(1001.65,551.47) scale(1.2400,1)" font-size="27" fill="#000">250</text>
<text transform="translate(1001.65,512.62) scale(1.2400,1)" font-size="27" fill="#000">300</text>
<text transform="translate(992.44,749.22) scale(1.2400,1)" font-size="27" fill="#000">0.05</text>
<text transform="translate(992.35,774.42) scale(1.2400,1)" font-size="27" fill="#000">0.00</text>
<rect x="1071.5" y="604" width="12.2" height="133.1" fill="#000" stroke="none" stroke-width="0"/>
<rect x="1071.5" y="740.2" width="12.2" height="25.5" fill="#000" stroke="none" stroke-width="0"/>
<line x1="1077.6" y1="604" x2="1077.6" y2="520.7" stroke="#000" stroke-width="1.6"/>
<line x1="1074.3" y1="520.7" x2="1080.9" y2="520.7" stroke="#000" stroke-width="1.8"/>
<rect x="1087.6" y="719.8" width="10.8" height="16.6" fill="url(#pM2)" stroke="#000" stroke-width="1.4"/>
<rect x="1087.6" y="740.9" width="10.8" height="24.8" fill="url(#pM2)" stroke="#000" stroke-width="1.4"/>
<line x1="1093" y1="719.1" x2="1093" y2="707" stroke="#000" stroke-width="1.6"/>
<line x1="1089.7" y1="707" x2="1096.3" y2="707" stroke="#000" stroke-width="1.8"/>
<rect x="1103" y="730.2" width="10.8" height="6.2" fill="url(#pM3)" stroke="#000" stroke-width="1.4"/>
<rect x="1103" y="740.9" width="10.8" height="24.8" fill="url(#pM3)" stroke="#000" stroke-width="1.4"/>
<line x1="1108.4" y1="729.5" x2="1108.4" y2="728" stroke="#000" stroke-width="1.6"/>
<line x1="1105.1" y1="728" x2="1111.7" y2="728" stroke="#000" stroke-width="1.8"/>
<rect x="1118.4" y="704.3" width="10.8" height="32.1" fill="url(#pM4)" stroke="#000" stroke-width="1.4"/>
<rect x="1118.4" y="740.9" width="10.8" height="24.8" fill="url(#pM4)" stroke="#000" stroke-width="1.4"/>
<line x1="1123.8" y1="703.6" x2="1123.8" y2="666.4" stroke="#000" stroke-width="1.6"/>
<line x1="1120.5" y1="666.4" x2="1127.1" y2="666.4" stroke="#000" stroke-width="1.8"/>
<rect x="1133.8" y="730.7" width="10.8" height="5.7" fill="url(#pM7)" stroke="#000" stroke-width="1.4"/>
<rect x="1133.8" y="740.9" width="10.8" height="24.8" fill="url(#pM7)" stroke="#000" stroke-width="1.4"/>
<line x1="1139.2" y1="730" x2="1139.2" y2="723.8" stroke="#000" stroke-width="1.6"/>
<line x1="1135.9" y1="723.8" x2="1142.5" y2="723.8" stroke="#000" stroke-width="1.8"/>
<rect x="1149.2" y="755.6" width="10.8" height="10.1" fill="url(#pM8)" stroke="#000" stroke-width="1.4"/>
<rect x="1164.6" y="735.7" width="10.8" height="0.7" fill="url(#pM9)" stroke="#000" stroke-width="1.4"/>
<rect x="1164.6" y="740.9" width="10.8" height="24.8" fill="url(#pM9)" stroke="#000" stroke-width="1.4"/>
<line x1="1170" y1="735" x2="1170" y2="733.8" stroke="#000" stroke-width="1.6"/>
<line x1="1166.7" y1="733.8" x2="1173.3" y2="733.8" stroke="#000" stroke-width="1.8"/>
<rect x="1180" y="737" width="10.8" height="-0.6" fill="url(#pM10)" stroke="#000" stroke-width="1.4"/>
<rect x="1180" y="740.9" width="10.8" height="24.8" fill="url(#pM10)" stroke="#000" stroke-width="1.4"/>
<rect x="1204.9" y="643.5" width="12.2" height="93.6" fill="#000" stroke="none" stroke-width="0"/>
<rect x="1204.9" y="740.2" width="12.2" height="25.5" fill="#000" stroke="none" stroke-width="0"/>
<line x1="1211" y1="643.5" x2="1211" y2="568.5" stroke="#000" stroke-width="1.6"/>
<line x1="1207.7" y1="568.5" x2="1214.3" y2="568.5" stroke="#000" stroke-width="1.8"/>
<rect x="1221" y="727.8" width="10.8" height="8.6" fill="url(#pM2)" stroke="#000" stroke-width="1.4"/>
<rect x="1221" y="740.9" width="10.8" height="24.8" fill="url(#pM2)" stroke="#000" stroke-width="1.4"/>
<line x1="1226.4" y1="727.1" x2="1226.4" y2="717.7" stroke="#000" stroke-width="1.6"/>
<line x1="1223.1" y1="717.7" x2="1229.7" y2="717.7" stroke="#000" stroke-width="1.8"/>
<rect x="1236.4" y="729.6" width="10.8" height="6.8" fill="url(#pM3)" stroke="#000" stroke-width="1.4"/>
<rect x="1236.4" y="740.9" width="10.8" height="24.8" fill="url(#pM3)" stroke="#000" stroke-width="1.4"/>
<line x1="1241.8" y1="728.9" x2="1241.8" y2="722.4" stroke="#000" stroke-width="1.6"/>
<line x1="1238.5" y1="722.4" x2="1245.1" y2="722.4" stroke="#000" stroke-width="1.8"/>
<rect x="1251.8" y="721.7" width="10.8" height="14.7" fill="url(#pM4)" stroke="#000" stroke-width="1.4"/>
<rect x="1251.8" y="740.9" width="10.8" height="24.8" fill="url(#pM4)" stroke="#000" stroke-width="1.4"/>
<line x1="1257.2" y1="721" x2="1257.2" y2="703.8" stroke="#000" stroke-width="1.6"/>
<line x1="1253.9" y1="703.8" x2="1260.5" y2="703.8" stroke="#000" stroke-width="1.8"/>
<rect x="1267.2" y="732.2" width="10.8" height="4.2" fill="url(#pM7)" stroke="#000" stroke-width="1.4"/>
<rect x="1267.2" y="740.9" width="10.8" height="24.8" fill="url(#pM7)" stroke="#000" stroke-width="1.4"/>
<line x1="1272.6" y1="731.5" x2="1272.6" y2="725.6" stroke="#000" stroke-width="1.6"/>
<line x1="1269.3" y1="725.6" x2="1275.9" y2="725.6" stroke="#000" stroke-width="1.8"/>
<rect x="1298" y="734.2" width="10.8" height="2.2" fill="url(#pM9)" stroke="#000" stroke-width="1.4"/>
<rect x="1298" y="740.9" width="10.8" height="24.8" fill="url(#pM9)" stroke="#000" stroke-width="1.4"/>
<line x1="1298.9" y1="733" x2="1307.9" y2="733" stroke="#000" stroke-width="1.6"/>
<rect x="1313.4" y="736.5" width="10.8" height="-0.1" fill="url(#pM10)" stroke="#000" stroke-width="1.4"/>
<rect x="1313.4" y="740.9" width="10.8" height="24.8" fill="url(#pM10)" stroke="#000" stroke-width="1.4"/>
<rect x="1066" y="737.1" width="264" height="3.1" fill="#fff" stroke="none" stroke-width="0"/>
<line x1="1131.4" y1="765.7" x2="1131.4" y2="769.3" stroke="#000" stroke-width="1.4"/>
<line x1="1264.6" y1="765.7" x2="1264.6" y2="769.3" stroke="#000" stroke-width="1.4"/>
<text transform="translate(1121.89,792.65) scale(1.3301,1)" font-size="25.85" fill="#000">3</text>
<text transform="translate(1255.59,792.6) scale(1.2780,1)" font-size="26.16" fill="#000">7</text>
<text transform="translate(1121.45,820.3) scale(1.2906,1)" font-size="25.9" fill="#000">Time (day)</text>
<text transform="translate(899.68,716.76) rotate(-90) scale(0.7968,1)" font-size="33.09" fill="#000">Metabolites in</text>
<text transform="translate(938.2,736.4) rotate(-90) scale(0.7941,1)" font-size="33.26" fill="#000">beagle dog feces</text>
<text transform="translate(980.35,665.22) rotate(-90) scale(0.7606,1)" font-size="34.44" fill="#000">(µg/g)</text>
<rect x="1334.2" y="481.7" width="21" height="25" fill="#000" stroke="none" stroke-width="0"/>
<text transform="translate(1363.81,502.9) scale(1.1100,1)" font-size="27.3" fill="#000">M1</text>
<rect x="1335" y="512" width="19.4" height="23.7" fill="url(#pM2)" stroke="#000" stroke-width="1.6"/>
<text transform="translate(1363.81,533.3) scale(1.1100,1)" font-size="27.3" fill="#000">M2</text>
<rect x="1335" y="541.2" width="19.4" height="23" fill="url(#pM3)" stroke="#000" stroke-width="1.6"/>
<text transform="translate(1363.81,561.6) scale(1.1100,1)" font-size="27.3" fill="#000">M3</text>
<rect x="1335" y="568.1" width="19.4" height="23.4" fill="url(#pM4)" stroke="#000" stroke-width="1.6"/>
<text transform="translate(1363.81,589.1) scale(1.1100,1)" font-size="27.3" fill="#000">M4</text>
<rect x="1335" y="596.6" width="19.4" height="23.4" fill="url(#pM7)" stroke="#000" stroke-width="1.6"/>
<text transform="translate(1363.81,617.3) scale(1.1100,1)" font-size="27.3" fill="#000">M7</text>
<rect x="1335" y="624.3" width="19.4" height="23" fill="url(#pM8)" stroke="#000" stroke-width="1.6"/>
<text transform="translate(1363.81,644.8) scale(1.1100,1)" font-size="27.3" fill="#000">M8</text>
<rect x="1335" y="652.3" width="19.4" height="23.4" fill="url(#pM9)" stroke="#000" stroke-width="1.6"/>
<text transform="translate(1363.81,672.2) scale(1.1100,1)" font-size="27.3" fill="#000">M9</text>
<rect x="1335" y="681.2" width="19.4" height="23.4" fill="url(#pM10)" stroke="#000" stroke-width="1.6"/>
<text transform="translate(1363.59,701) scale(1.2088,1)" font-size="27.3" fill="#000">M10</text>
<rect x="438.6" y="854.1" width="1329.7" height="360.9" fill="none" stroke="#000" stroke-width="2.4"/>
<text transform="translate(461.57,888) scale(1.1356,1)" font-size="28" font-weight="bold" fill="#000">D</text>
<text transform="translate(456.87,975.5) scale(0.9846,1)" font-size="48" fill="#000">(L)</text>
<text transform="translate(545.94,1064.02) rotate(-90) scale(1.1317,1)" font-size="23.9" fill="#000">Butyrate</text>
<text transform="translate(577.97,1141.99) rotate(-90) scale(1.1050,1)" font-size="24.25" fill="#000">in beagle dog plasma</text>
<text transform="translate(608.79,1058.8) rotate(-90) scale(1.1332,1)" font-size="24.14" fill="#000">(µg/mL)</text>
<line x1="668.6" y1="916.7" x2="668.6" y2="1133.8" stroke="#000" stroke-width="1.8"/>
<line x1="667.8" y1="1133.1" x2="994.2" y2="1133.1" stroke="#000" stroke-width="1.9"/>
<line x1="664.8" y1="1133.1" x2="668.6" y2="1133.1" stroke="#000" stroke-width="1.6"/>
<line x1="664.8" y1="1061.2" x2="668.6" y2="1061.2" stroke="#000" stroke-width="1.6"/>
<line x1="664.8" y1="989.3" x2="668.6" y2="989.3" stroke="#000" stroke-width="1.6"/>
<line x1="664.8" y1="917.4" x2="668.6" y2="917.4" stroke="#000" stroke-width="1.6"/>
<text transform="translate(624.44,1142.8) scale(1.0000,1)" font-size="27.8" fill="#000">0.0</text>
<text transform="translate(624.44,1070.9) scale(1.0000,1)" font-size="27.8" fill="#000">2.0</text>
<text transform="translate(624.44,999) scale(1.0000,1)" font-size="27.8" fill="#000">4.0</text>
<text transform="translate(624.44,927.1) scale(1.0000,1)" font-size="27.8" fill="#000">6.0</text>
<rect x="682.8" y="1074.2" width="52.9" height="58.9" fill="#fff" stroke="#000" stroke-width="2"/>
<rect x="764.4" y="1045.3" width="52.3" height="87.8" fill="#a1a1a1" stroke="#000" stroke-width="2"/>
<rect x="845.7" y="1021.3" width="52.3" height="111.8" fill="#858585" stroke="#000" stroke-width="2"/>
<rect x="926.4" y="999.9" width="53.7" height="133.2" fill="#000" stroke="#000" stroke-width="2"/>
<line x1="709.7" y1="1073.2" x2="709.7" y2="1047.6" stroke="#000" stroke-width="1.9"/>
<line x1="695.75" y1="1047.6" x2="723.65" y2="1047.6" stroke="#000" stroke-width="1.9"/>
<line x1="791" y1="1044.3" x2="791" y2="1023.4" stroke="#000" stroke-width="1.9"/>
<line x1="777.05" y1="1023.4" x2="804.95" y2="1023.4" stroke="#000" stroke-width="1.9"/>
<line x1="846" y1="1018.9" x2="886.4" y2="1018.9" stroke="#000" stroke-width="1.9"/>
<line x1="954.1" y1="998.9" x2="954.1" y2="957.7" stroke="#000" stroke-width="1.9"/>
<line x1="940.2" y1="957.7" x2="968" y2="957.7" stroke="#000" stroke-width="1.9"/>
<line x1="709.4" y1="1133.1" x2="709.4" y2="1137.1" stroke="#000" stroke-width="1.6"/>
<line x1="790.6" y1="1133.1" x2="790.6" y2="1137.1" stroke="#000" stroke-width="1.6"/>
<line x1="871.9" y1="1133.1" x2="871.9" y2="1137.1" stroke="#000" stroke-width="1.6"/>
<line x1="953.2" y1="1133.1" x2="953.2" y2="1137.1" stroke="#000" stroke-width="1.6"/>
<text transform="translate(701.74,1161.73) scale(0.9782,1)" font-size="27.8" fill="#000">0</text>
<text transform="translate(783.12,1161.73) scale(1.0166,1)" font-size="27.8" fill="#000">3</text>
<text transform="translate(864.3,1161.73) scale(0.9863,1)" font-size="27.8" fill="#000">5</text>
<text transform="translate(944.89,1162) scale(0.9891,1)" font-size="27.8" fill="#000">7</text>
<text transform="translate(774.09,1199) scale(0.9870,1)" font-size="27.6" fill="#000">Time(day)</text>
<polyline points="708.3,945.7 708.3,903.6 953.3,903.6" fill="none" stroke="#000" stroke-width="1.9" stroke-linejoin="miter"/>
<line x1="954.1" y1="907.6" x2="954.1" y2="942.9" stroke="#000" stroke-width="1.9"/>
<polyline points="708.3,1024.5 708.3,965.3 874.5,965.3 874.5,998.6" fill="none" stroke="#000" stroke-width="1.9" stroke-linejoin="miter"/>
<text x="789.99" y="909.94" font-size="38.43" font-weight="bold">*</text>
<text x="807.93" y="909.94" font-size="38.43" font-weight="bold">*</text>
<text x="825.88" y="909.94" font-size="38.43" font-weight="bold">*</text>
<text x="783.79" y="967.63" font-size="38.7" font-weight="bold">*</text>
<text transform="translate(1075.62,921.6) scale(1.0348,1)" font-size="46.4" fill="#000">(R)</text>
<text transform="translate(1172.98,1087.3) rotate(-90) scale(1.1342,1)" font-size="24.68" fill="#000">Butyrate</text>
<text transform="translate(1207.05,1156.97) rotate(-90) scale(1.0637,1)" font-size="26.28" fill="#000">in beagle dog feces</text>
<text transform="translate(1239.69,1068.36) rotate(-90) scale(0.9813,1)" font-size="28.97" fill="#000">(µg/g)</text>
<line x1="1325.6" y1="918.5" x2="1325.6" y2="1142.3" stroke="#000" stroke-width="1.8"/>
<line x1="1324.8" y1="1141.6" x2="1659.6" y2="1141.6" stroke="#000" stroke-width="1.9"/>
<line x1="1321.8" y1="1141.6" x2="1325.6" y2="1141.6" stroke="#000" stroke-width="1.6"/>
<line x1="1321.8" y1="1086" x2="1325.6" y2="1086" stroke="#000" stroke-width="1.6"/>
<line x1="1321.8" y1="1030.4" x2="1325.6" y2="1030.4" stroke="#000" stroke-width="1.6"/>
<line x1="1321.8" y1="974.8" x2="1325.6" y2="974.8" stroke="#000" stroke-width="1.6"/>
<line x1="1321.8" y1="919.2" x2="1325.6" y2="919.2" stroke="#000" stroke-width="1.6"/>
<text transform="translate(1305.09,1151.62) scale(0.9780,1)" font-size="28.7" fill="#000">0</text>
<text transform="translate(1258.25,1096.02) scale(0.9780,1)" font-size="28.7" fill="#000">1000</text>
<text transform="translate(1258.25,1040.42) scale(0.9780,1)" font-size="28.7" fill="#000">2000</text>
<text transform="translate(1258.25,984.82) scale(0.9780,1)" font-size="28.7" fill="#000">3000</text>
<text transform="translate(1258.25,929.22) scale(0.9780,1)" font-size="28.7" fill="#000">4000</text>
<rect x="1341.1" y="1084.6" width="53.9" height="57" fill="#fff" stroke="#000" stroke-width="2"/>
<rect x="1424.2" y="1074.5" width="53.9" height="67.1" fill="#a2a2a8" stroke="#000" stroke-width="2"/>
<rect x="1507.9" y="1045.3" width="54.1" height="96.3" fill="#868686" stroke="#000" stroke-width="2"/>
<rect x="1591" y="1010" width="54.2" height="131.6" fill="#000" stroke="#000" stroke-width="2"/>
<line x1="1367.9" y1="1083.6" x2="1367.9" y2="1052.6" stroke="#000" stroke-width="1.9"/>
<line x1="1353.85" y1="1052.6" x2="1381.95" y2="1052.6" stroke="#000" stroke-width="1.9"/>
<line x1="1451.3" y1="1073.5" x2="1451.3" y2="1042.6" stroke="#000" stroke-width="1.9"/>
<line x1="1436.95" y1="1042.6" x2="1465.65" y2="1042.6" stroke="#000" stroke-width="1.9"/>
<line x1="1533.5" y1="1044.3" x2="1533.5" y2="1025.7" stroke="#000" stroke-width="1.9"/>
<line x1="1519.15" y1="1025.7" x2="1547.85" y2="1025.7" stroke="#000" stroke-width="1.9"/>
<line x1="1618.1" y1="1009" x2="1618.1" y2="968.3" stroke="#000" stroke-width="1.9"/>
<line x1="1603.75" y1="968.3" x2="1632.45" y2="968.3" stroke="#000" stroke-width="1.9"/>
<line x1="1367.9" y1="1141.6" x2="1367.9" y2="1145.6" stroke="#000" stroke-width="1.6"/>
<line x1="1451.3" y1="1141.6" x2="1451.3" y2="1145.6" stroke="#000" stroke-width="1.6"/>
<line x1="1534.5" y1="1141.6" x2="1534.5" y2="1145.6" stroke="#000" stroke-width="1.6"/>
<line x1="1618.1" y1="1141.6" x2="1618.1" y2="1145.6" stroke="#000" stroke-width="1.6"/>
<text transform="translate(1360.55,1171) scale(1.0183,1)" font-size="26.5" fill="#000">0</text>
<text transform="translate(1443.55,1171) scale(1.1382,1)" font-size="26.5" fill="#000">3</text>
<text transform="translate(1525.68,1171) scale(1.1461,1)" font-size="26.5" fill="#000">5</text>
<text transform="translate(1609.45,1171) scale(1.0708,1)" font-size="26.5" fill="#000">7</text>
<text transform="translate(1415.38,1199.3) scale(1.0342,1)" font-size="26.8" fill="#000">Time(day)</text>
<polyline points="1367.3,935.1 1367.3,899.6" fill="none" stroke="#000" stroke-width="1.9" stroke-linejoin="miter"/>
<polyline points="1370.2,895.8 1615.8,895.8 1615.8,929.4" fill="none" stroke="#000" stroke-width="1.9" stroke-linejoin="miter"/>
<polyline points="1367.3,993.8 1367.3,946.8 1532.1,946.8 1532.1,976.1" fill="none" stroke="#000" stroke-width="1.9" stroke-linejoin="miter"/>
<text x="1464.89" y="903.31" font-size="38.97" font-weight="bold">*</text>
<text x="1483.87" y="903.31" font-size="38.97" font-weight="bold">*</text>
<text x="1440.29" y="961.63" font-size="38.7" font-weight="bold">*</text>
</svg></body></html>
